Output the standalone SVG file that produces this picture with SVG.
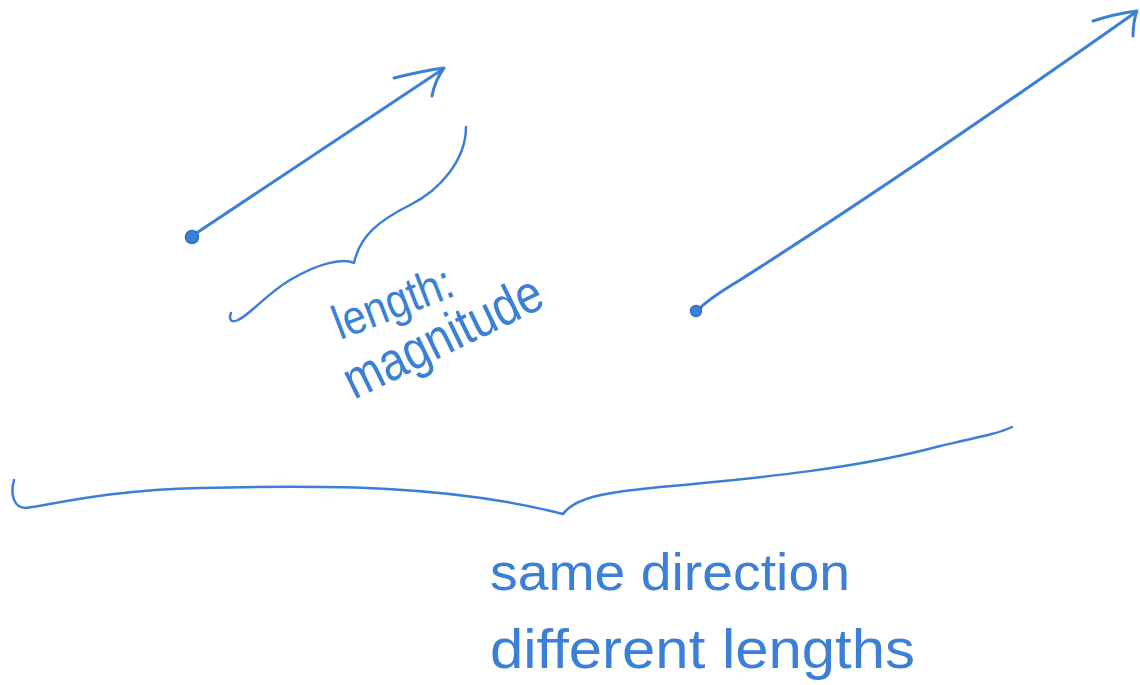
<svg xmlns="http://www.w3.org/2000/svg" width="1140" height="685" viewBox="0 0 1140 685">
<style>
.ink{fill:none;stroke:#3b7fd6;stroke-width:3;stroke-linecap:round;stroke-linejoin:round}
.dot{fill:#3b7fd6;stroke:#2f6fc4;stroke-width:1.5}
.hand{font-family:"Liberation Sans","DejaVu Sans",sans-serif;fill:#3b7fd6;font-weight:normal}
</style>
<rect width="1140" height="685" fill="#ffffff"/>
<g id="vector-short">
<path class="ink" d="M192,236 C260,190 330,145 443,69"/>
<path class="ink" d="M394,78 C410,74 428,70 444,68 C438,76 434,86 432,96"/>
<circle class="dot" cx="192" cy="237" r="6.5"/>
</g>
<g id="vector-long">
<path class="ink" d="M697,311 C705,302 720,292 740,280 C850,210 980,122 1136,12"/>
<path class="ink" d="M1093,21 C1108,16 1122,13 1137,11 C1134,19 1133,27 1133,36"/>
<circle class="dot" cx="696" cy="311" r="5.5"/>
</g>
<g id="brace-length">
<path class="ink" style="stroke-width:2.5" d="M466,127 C466,160 440,190 410,205 C380,220 360,235 354,263 C345,258 320,262 290,280 C265,295 250,315 238,320 C230,324 229,318 231,313"/>
</g>
<g id="brace-lengths">
<path class="ink" style="stroke-width:2.5" d="M14,480 C10,495 14,508 26,508 C60,503 110,490 200,488 C330,485 450,485 563,514 C575,498 600,493 660,487 C760,478 860,468 940,446 C980,437 1000,433 1012,427"/>
</g>
<g id="label-magnitude">
<text class="hand" font-size="48" transform="translate(340,340) rotate(-21)" textLength="125" lengthAdjust="spacingAndGlyphs">length:</text>
<text class="hand" font-size="54" transform="translate(354,400) rotate(-26)" textLength="215" lengthAdjust="spacingAndGlyphs">magnitude</text>
</g>
<g id="label-direction">
<text class="hand" font-size="52" x="490" y="590" textLength="360" lengthAdjust="spacingAndGlyphs">same direction</text>
<text class="hand" font-size="56" x="490" y="668" textLength="425" lengthAdjust="spacingAndGlyphs">different lengths</text>
</g>
</svg>
